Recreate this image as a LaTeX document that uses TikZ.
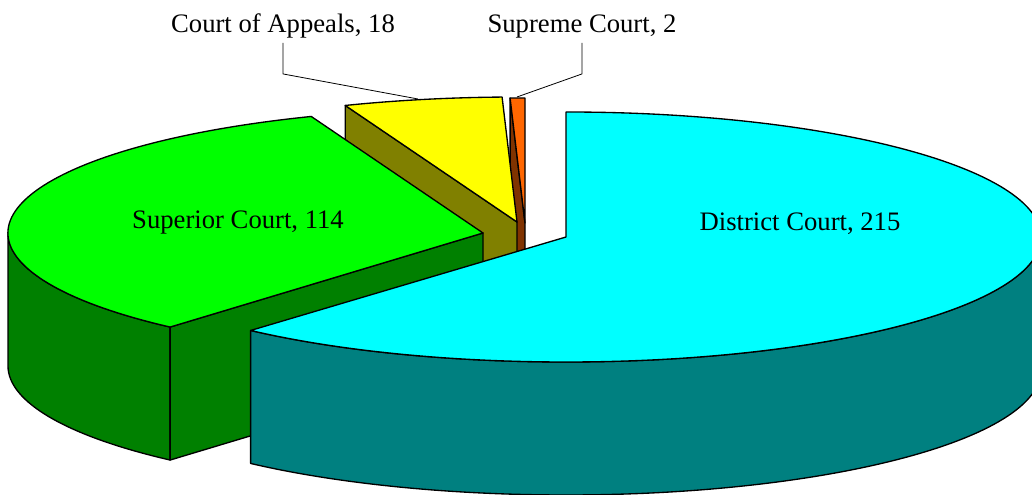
\documentclass[tikz,border=0pt]{standalone}
\usepackage{fontspec}
\setmainfont{Liberation Serif}
\definecolor{districttop}{RGB}{0,255,255}
\definecolor{districtside}{RGB}{0,128,128}
\definecolor{superiortop}{RGB}{0,255,0}
\definecolor{superiorside}{RGB}{0,128,0}
\definecolor{appealstop}{RGB}{255,255,0}
\definecolor{appealsside}{RGB}{128,128,0}
\definecolor{supremetop}{RGB}{255,102,0}
\definecolor{supremeside}{RGB}{128,51,0}

\begin{document}
\begin{tikzpicture}[x=0.75pt,y=0.75pt,line join=round,
x radius=475,y radius=125,
slice/.style={draw=black,line width=1pt},
leader/.style={draw=black,line width=0.6pt},
label/.style={font=\fontsize{20}{24}\selectfont,inner sep=3pt,anchor=base}]
\clip (0,0) rectangle (1032,495);
\coordinate (supreme) at (525,272);
\coordinate (appeals) at (517,273);
\coordinate (superior) at (483,262);
\coordinate (district) at (566,258);
% supreme court
\path[slice,fill=supremeside] (supreme) -- ++(91.8:475 and 125) -- ++(0,-133)
  -- ++(271.8:475 and 125) -- cycle;
\path[slice,fill=supremetop] (supreme) -- ++(90:475 and 125)
  arc[start angle=90,end angle=91.8] -- cycle;
% court of appeals
\path[slice,fill=appealsside] (appeals) -- ++(111.2:475 and 125) -- ++(0,-133)
  -- ++(291.2:475 and 125) -- cycle;
\path[slice,fill=appealstop] (appeals) -- ++(91.8:475 and 125)
  arc[start angle=91.8,end angle=111.2] -- cycle;
% superior court
\path[slice,fill=superiorside] (superior) ++(180:475 and 125)
  arc[start angle=180,end angle=228.8] -- ++(0,-133)
  arc[start angle=228.8,end angle=180] -- cycle;
\path[slice,fill=superiorside] (superior) -- ++(228.8:475 and 125) -- ++(0,-133)
  -- ++(48.8:475 and 125) -- cycle;
\path[slice,fill=superiortop] (superior) -- ++(111.2:475 and 125)
  arc[start angle=111.2,end angle=228.8] -- cycle;
% district court
\path[slice,fill=districtside] (district) ++(-131.6:475 and 125)
  arc[start angle=-131.6,end angle=0] -- ++(0,-133)
  arc[start angle=0,end angle=-131.6] -- cycle;
\path[slice,fill=districttop] (district) -- ++(90:475 and 125)
  arc[start angle=90,end angle=-131.6] -- cycle;
% labels
\node[label] (districtlabel) at (800,264) {District Court, 215};
\node[label] (superiorlabel) at (238,266) {Superior Court, 114};
\node[label] (appealslabel) at (283,462) {Court of Appeals, 18};
\node[label] (supremelabel) at (582,462) {Supreme Court, 2};
\coordinate (appealstip) at (418,396);
\coordinate (supremetip) at (517,398);
\draw[leader] (appealslabel.south) -- ++(0,-31) -- (appealstip);
\draw[leader] (supremelabel.south) -- ++(0,-31) -- (supremetip);
\end{tikzpicture}
\end{document}
